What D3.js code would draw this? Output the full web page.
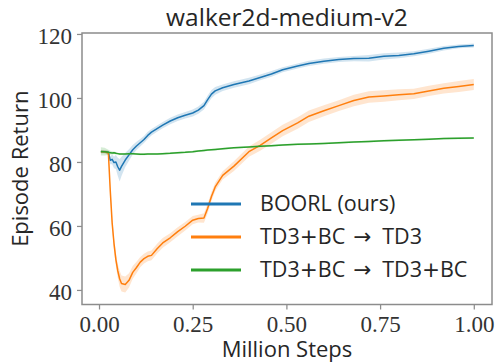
<!DOCTYPE html>
<html>
<head>
<meta charset="utf-8">
<script src="https://cdn.jsdelivr.net/npm/d3@7"></script>
<style>
body { margin: 0; background: #fff; }
.lab { font-family: 'Open Sans', sans-serif; fill: #262626; }
.sym { font-family: 'DejaVu Sans', sans-serif; }
.num { font-family: 'Liberation Serif', serif; font-size: 23px; fill: #333; }
</style>
</head>
<body>
<svg id="chart" width="496" height="362"></svg>
<script>
var steps = [0.005, 0.015, 0.025, 0.03, 0.035, 0.04, 0.045, 0.05, 0.055, 0.06, 0.07, 0.08, 0.09, 0.1, 0.11, 0.12, 0.13, 0.14, 0.155, 0.17, 0.19, 0.21, 0.23, 0.25, 0.265, 0.28, 0.29, 0.3, 0.31, 0.33, 0.36, 0.4, 0.43, 0.46, 0.49, 0.53, 0.56, 0.6, 0.64, 0.68, 0.72, 0.76, 0.8, 0.84, 0.88, 0.92, 0.96, 1.0];

var boorl = [83.2, 83.2, 83.0, 80.5, 80.8, 79.8, 80.0, 78.5, 77.4, 78.6, 80.6, 82.2, 83.8, 85.0, 86.0, 87.0, 88.3, 89.3, 90.4, 91.5, 92.8, 93.8, 94.6, 95.3, 96.2, 97.6, 99.5, 101.2, 102.2, 103.2, 104.2, 105.3, 106.4, 107.5, 108.8, 110.0, 110.8, 111.5, 112.0, 112.3, 112.4, 113.0, 113.3, 113.8, 114.6, 115.5, 116.1, 116.4];
var boorlStd = [0.5, 0.5, 0.6, 1.2, 1.5, 1.8, 2.2, 2.8, 3.5, 3.0, 2.2, 1.8, 1.5, 1.3, 1.2, 1.1, 1.1, 1.0, 1.0, 1.0, 1.0, 1.0, 1.0, 1.1, 1.1, 1.2, 1.3, 1.3, 1.2, 1.0, 1.0, 1.0, 0.9, 0.9, 0.8, 0.8, 0.8, 0.8, 0.8, 0.8, 1.0, 1.0, 0.9, 0.8, 0.8, 0.7, 0.6, 0.6];

var td3 = [83.2, 83.2, 82.8, 71.1, 61.0, 54.5, 49.5, 46.0, 43.5, 42.0, 41.7, 43.0, 45.5, 47.0, 48.7, 49.8, 50.5, 50.8, 52.9, 54.7, 56.3, 58.2, 59.9, 61.8, 62.3, 62.5, 65.5, 69.2, 72.2, 75.8, 78.7, 83.2, 85.2, 87.5, 89.8, 92.2, 94.3, 96.0, 97.6, 99.2, 100.3, 100.6, 101.0, 101.3, 102.2, 103.0, 103.6, 104.2];
var td3Std = [0.5, 0.5, 0.6, 1.5, 2.0, 2.0, 2.0, 2.2, 2.5, 2.5, 2.5, 2.2, 2.0, 1.8, 1.6, 1.5, 1.5, 1.5, 1.5, 1.5, 1.4, 1.4, 1.3, 1.3, 1.2, 1.5, 1.5, 1.4, 1.3, 1.3, 1.5, 1.6, 1.7, 1.8, 1.8, 1.8, 1.8, 1.7, 1.7, 1.8, 1.8, 1.8, 1.7, 1.6, 1.6, 1.6, 1.7, 1.7];

var bc = [83.3, 83.2, 83.0, 82.9, 82.8, 82.9, 82.7, 82.6, 82.5, 82.5, 82.5, 82.6, 82.6, 82.5, 82.4, 82.4, 82.5, 82.5, 82.5, 82.6, 82.7, 82.9, 83.0, 83.2, 83.4, 83.6, 83.7, 83.8, 83.9, 84.1, 84.4, 84.7, 84.9, 85.1, 85.3, 85.5, 85.6, 85.8, 86.0, 86.2, 86.4, 86.6, 86.8, 86.9, 87.1, 87.3, 87.4, 87.5];
var bcStd = [1.3, 1.2, 0.8, 0.6, 0.5, 0.4, 0.4, 0.3, 0.3, 0.3, 0.3, 0.3, 0.3, 0.3, 0.3, 0.3, 0.3, 0.3, 0.3, 0.3, 0.3, 0.3, 0.3, 0.3, 0.3, 0.3, 0.3, 0.3, 0.3, 0.3, 0.3, 0.3, 0.3, 0.3, 0.3, 0.3, 0.3, 0.3, 0.3, 0.3, 0.3, 0.3, 0.3, 0.3, 0.3, 0.3, 0.3, 0.3];

// label pieces; '+' and arrow are drawn in a wider font like the math glyphs
var seriesNames = [['BOORL (ours)'], ['TD3', '+', 'BC', '\u2192', 'TD3'], ['TD3', '+', 'BC', '\u2192', 'TD3', '+', 'BC']];
var colors = ['#1f77b4', '#ff7f0e', '#2ca02c'];
var xTicks = [0, 0.25, 0.5, 0.75, 1.0];
var yTicks = [40, 60, 80, 100, 120];

var mLeft = 82, mRight = 492, mTop = 33, mBottom = 304.5;
var svg = d3.select('#chart');

var x = d3.scaleLinear().domain([-0.0454, 1.0486]).range([mLeft, mRight]);
var y = d3.scaleLinear().domain([35.45, 120.3]).range([mBottom, mTop]);

var series = [
	{name: seriesNames[0], mean: boorl, std: boorlStd, color: colors[0]},
	{name: seriesNames[1], mean: td3, std: td3Std, color: colors[1]},
	{name: seriesNames[2], mean: bc, std: bcStd, color: colors[2]}
];

var area = d3.area()
	.x(function(d){ return x(d.x); })
	.y0(function(d){ return y(d.m - d.s); })
	.y1(function(d){ return y(d.m + d.s); });
var line = d3.line()
	.x(function(d){ return x(d.x); })
	.y(function(d){ return y(d.m); });

var plot = svg.append('g');
series.forEach(function(s){
	var pts = steps.map(function(v, i){ return {x: v, m: s.mean[i], s: s.std[i]}; });
	plot.append('path').datum(pts).attr('d', area)
		.attr('fill', s.color).attr('fill-opacity', 0.2).attr('stroke', 'none');
	plot.append('path').datum(pts).attr('d', line)
		.attr('fill', 'none').attr('stroke', s.color).attr('stroke-width', 1.5)
		.attr('stroke-linejoin', 'round');
});

// axes
var xAxis = svg.append('g').attr('transform', 'translate(0,' + mBottom + ')')
	.call(d3.axisBottom(x).tickValues(xTicks).tickFormat(d3.format('.2f')).tickSizeOuter(0).tickSize(5).tickPadding(6));
var yAxis = svg.append('g').attr('transform', 'translate(' + mLeft + ',0)')
	.call(d3.axisLeft(y).tickValues(yTicks).tickFormat(d3.format('d')).tickSizeOuter(0).tickSize(5).tickPadding(5));
[xAxis, yAxis].forEach(function(a){
	a.attr('font-family', null).attr('font-size', null);
	a.select('.domain').remove();
	a.selectAll('.tick line').attr('stroke', '#8c8c8c').attr('stroke-width', 1.25);
	a.selectAll('.tick text').attr('fill', null).classed('num', true);
});
yAxis.selectAll('.tick text').attr('dy', '0.4em');

// frame
svg.append('rect').attr('x', mLeft).attr('y', mTop)
	.attr('width', mRight - mLeft).attr('height', mBottom - mTop)
	.attr('fill', 'none').attr('stroke', '#8c8c8c').attr('stroke-width', 1.5);

// title and labels
svg.append('text').attr('class', 'lab').attr('x', (mLeft + mRight) / 2).attr('y', 26)
	.attr('text-anchor', 'middle').style('font-size', '24.5px').text('walker2d-medium-v2');
svg.append('text').attr('class', 'lab').attr('x', (mLeft + mRight) / 2).attr('y', 357)
	.attr('text-anchor', 'middle').style('font-size', '22px').text('Million Steps');
svg.append('text').attr('class', 'lab')
	.attr('transform', 'translate(28,' + ((mTop + mBottom) / 2) + ') rotate(-90)')
	.attr('text-anchor', 'middle').style('font-size', '22px').text('Episode Return');

// legend
var legend = svg.append('g').attr('transform', 'translate(191,204)');
series.forEach(function(s, i){
	var row = legend.append('g').attr('transform', 'translate(0,' + (i * 33) + ')');
	row.append('line').attr('x1', 0).attr('x2', 50).attr('y1', 0).attr('y2', 0)
		.attr('stroke', s.color).attr('stroke-width', 3);
	var t = row.append('text').attr('class', 'lab').attr('x', 69).attr('y', 7)
		.style('font-size', '21.5px');
	var afterArrow = false;
	s.name.forEach(function(p){
		var sp = t.append('tspan').text(p);
		if (p == '+') sp.attr('class', 'sym');
		if (p == '\u2192') { sp.attr('class', 'sym').attr('dx', 8); afterArrow = true; }
		else if (afterArrow) { sp.attr('dx', 11); afterArrow = false; }
	});
});
</script>
</body>
</html>
